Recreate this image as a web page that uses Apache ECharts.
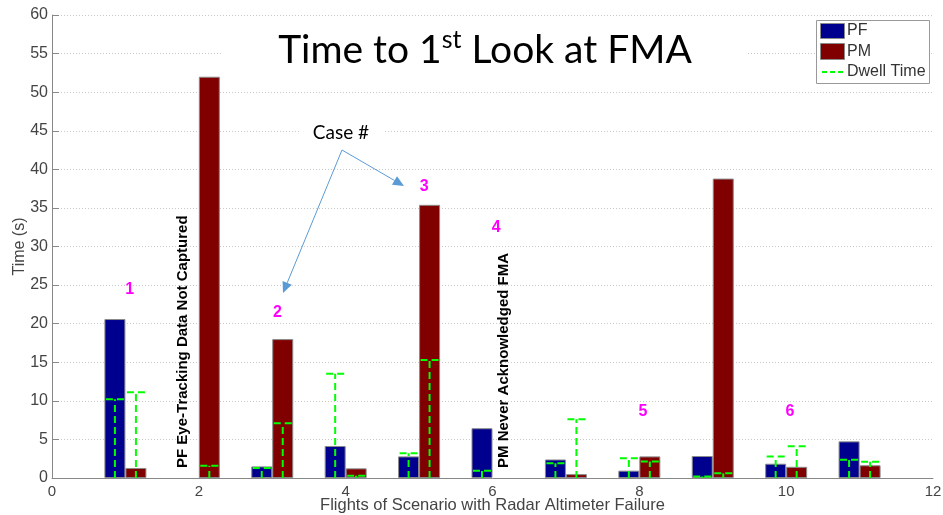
<!DOCTYPE html>
<html>
<head>
<meta charset="utf-8">
<script src="https://cdn.jsdelivr.net/npm/echarts@6/dist/echarts.min.js"></script>
<style>
html,body{margin:0;padding:0;background:#fff;}
#chart{width:943px;height:515px;}
</style>
</head>
<body>
<div id="chart"></div>
<script>
// ---- data ----
const flights = [1, 2, 3, 4, 5, 6, 7, 8, 9, 10, 11];
const pfTime = [20.6, null, 1.5, 4.15, 2.8, 6.45, 2.4, 0.95, 2.85, 1.85, 4.75];
const pmTime = [1.3, 52.0, 18.0, 1.25, 35.4, null, 0.5, 2.8, 38.8, 1.45, 1.65];
const pfDwell = [10.2, null, 1.3, 13.5, 3.2, 0.95, 1.9, 2.55, 0.2, 2.8, 2.35];
const pmDwell = [11.1, 1.6, 7.1, 0.3, 15.3, null, 7.6, 2.15, 0.6, 4.1, 2.1];
const yTicks = [0, 5, 10, 15, 20, 25, 30, 35, 40, 45, 50, 55, 60];
const xTicks = [0, 2, 4, 6, 8, 10, 12];
const caseLabels = ['1', '2', '3', '4', '5', '6'];
const caseX = [1.06, 3.07, 5.07, 6.05, 8.05, 10.05];
const caseY = [24.4, 21.4, 37.7, 32.5, 8.6, 8.6];
const noteTexts = ['PF Eye-Tracking Data Not Captured', 'PM Never Acknowledged FMA'];
const noteX = [1.785, 6.16];
const noteY = [1.3, 1.3];

const PF_COLOR = '#00008F', PM_COLOR = '#800000', DWELL = '#00FF00';
const BAR_W = 21;

const chart = echarts.init(document.getElementById('chart'), null, {renderer: 'canvas'});

function pairs(xs, ys) {
  const out = [];
  xs.forEach((x, i) => { if (ys[i] !== null) out.push([x, ys[i]]); });
  return out;
}
function barData(xs, ys) {
  return xs.map((x, i) => [x, ys[i] === null ? '-' : ys[i]]);
}
function dwellRender(offset) {
  return function (params, api) {
    const x = api.value(0), v = api.value(1);
    const top = api.coord([x, v]);
    const bot = api.coord([x, 0]);
    const cx = top[0] + offset;
    const st = {stroke: DWELL, lineWidth: 2, lineDash: [7, 4]};
    return {
      type: 'group',
      children: [
        {type: 'line', shape: {x1: cx, y1: bot[1], x2: cx, y2: top[1]}, style: st},
        {type: 'line', shape: {x1: cx - 9, y1: top[1], x2: cx + 10, y2: top[1]}, style: st}
      ]
    };
  };
}

const axisFont = 'Liberation Sans, Arial, sans-serif';

chart.setOption({
  animation: false,
  grid: {left: 52, right: 10, top: 15, bottom: 37, containLabel: false, outerBoundsMode: 'none'},
  xAxis: {
    type: 'value', min: 0, max: 12, interval: 2,
    name: 'Flights of Scenario with Radar Altimeter Failure',
    nameLocation: 'middle', nameGap: 19, nameMoveOverlap: false,
    nameTextStyle: {fontFamily: axisFont, fontSize: 16.5, color: '#444'},
    axisLine: {show: true, lineStyle: {color: '#888', width: 1}},
    axisTick: {show: false},
    axisLabel: {fontFamily: axisFont, fontSize: 15, color: '#444', margin: 6,
      formatter: v => xTicks.includes(v) ? String(v) : ''},
    splitLine: {show: false}
  },
  yAxis: {
    type: 'value', min: 0, max: 60, interval: 5,
    name: 'Time (s)', nameLocation: 'middle', nameGap: 24, nameMoveOverlap: false,
    nameTextStyle: {fontFamily: axisFont, fontSize: 16, color: '#444'},
    axisLine: {show: true, lineStyle: {color: '#888', width: 1}},
    axisTick: {show: true, inside: true, length: 7, lineStyle: {color: '#888'}},
    axisLabel: {fontFamily: axisFont, fontSize: 16, color: '#444', margin: 4,
      formatter: v => yTicks.includes(v) ? String(v) : ''},
    splitLine: {show: true, lineStyle: {color: '#c8c8c8', type: [1, 2], width: 1}}
  },
  series: [
    {name: 'PF', type: 'bar', data: barData(flights, pfTime), barWidth: BAR_W, barGap: '0%',
      itemStyle: {color: PF_COLOR, borderColor: '#8a8a8a', borderWidth: 1}},
    {name: 'PM', type: 'bar', data: barData(flights, pmTime), barWidth: BAR_W, barGap: '0%',
      itemStyle: {color: PM_COLOR, borderColor: '#8a8a8a', borderWidth: 1}},
    {name: 'Dwell Time', type: 'custom', data: pairs(flights, pfDwell), renderItem: dwellRender(-BAR_W / 2), z: 5},
    {name: 'Dwell Time', type: 'custom', data: pairs(flights, pmDwell), renderItem: dwellRender(BAR_W / 2), z: 5}
  ]
});

// ---- annotations ----
const g = [];
// title box (white background hides gridlines)
g.push({type: 'rect', shape: {x: 223, y: 28, width: 523, height: 50}, style: {fill: '#fff'}, z: 50});
g.push({type: 'text', x: 485, y: 73, z: 51, style: {
  rich: {n: {fontFamily: 'Lato, sans-serif', fontSize: 39, fill: '#000'},
         s: {fontFamily: 'Lato, sans-serif', fontSize: 25, fill: '#000', verticalAlign: 'top', padding: [0, 0, 21, 0]}},
  text: '{n|Time to 1}{s|st}{n| Look at FMA}', textAlign: 'center', textVerticalAlign: 'bottom', fill: '#000'
}});
// Case # box
g.push({type: 'rect', shape: {x: 300, y: 117, width: 84, height: 30}, style: {fill: '#fff'}, z: 50});
g.push({type: 'text', x: 341, y: 133, z: 51, style: {text: 'Case #', fontFamily: 'Lato, sans-serif', fontSize: 19, fill: '#000', textAlign: 'center', textVerticalAlign: 'middle'}});
// arrows
const arrowColor = '#5B9BD5';
function arrow(x1, y1, x2, y2) {
  const ang = Math.atan2(y2 - y1, x2 - x1);
  const L = 11, W = 5;
  const bx = x2 - L * Math.cos(ang), by = y2 - L * Math.sin(ang);
  g.push({type: 'line', z: 52, shape: {x1: x1, y1: y1, x2: bx, y2: by}, style: {stroke: arrowColor, lineWidth: 1}});
  g.push({type: 'polygon', z: 52, shape: {points: [[x2, y2],
    [bx + W * Math.sin(ang), by - W * Math.cos(ang)], [bx - W * Math.sin(ang), by + W * Math.cos(ang)]]},
    style: {fill: arrowColor}});
}
arrow(342, 150, 283, 293);
arrow(342, 150, 404, 186);
// case numbers
caseLabels.forEach((t, i) => {
  const p = chart.convertToPixel({gridIndex: 0}, [caseX[i], caseY[i]]);
  g.push({type: 'text', x: p[0], y: p[1], z: 40, style: {text: t, fontFamily: axisFont, fontWeight: 'bold', fontSize: 16, fill: '#FF00FF', textAlign: 'center', textVerticalAlign: 'middle'}});
});
// vertical notes
noteTexts.forEach((t, i) => {
  const p = chart.convertToPixel({gridIndex: 0}, [noteX[i], noteY[i]]);
  g.push({type: 'text', x: p[0], y: p[1], rotation: Math.PI / 2, z: 40, style: {text: t, fontFamily: axisFont, fontWeight: 'bold', fontSize: 15, fill: '#000', textAlign: 'left', textVerticalAlign: 'middle'}});
});
// legend
g.push({type: 'rect', z: 60, shape: {x: 816.5, y: 20.5, width: 113, height: 63}, style: {fill: '#fff', stroke: '#999', lineWidth: 1}});
g.push({type: 'rect', z: 61, shape: {x: 820.5, y: 23.5, width: 24, height: 15}, style: {fill: PF_COLOR, stroke: '#8a8a8a', lineWidth: 1}});
g.push({type: 'rect', z: 61, shape: {x: 820.5, y: 43.5, width: 24, height: 16}, style: {fill: PM_COLOR, stroke: '#8a8a8a', lineWidth: 1}});
g.push({type: 'line', z: 61, shape: {x1: 822, y1: 72, x2: 845, y2: 72}, style: {stroke: DWELL, lineWidth: 2, lineDash: [5, 3]}});
[['PF', 31], ['PM', 52], ['Dwell Time', 72]].forEach(([t, y]) => {
  g.push({type: 'text', z: 61, x: 847, y: y, style: {text: t, fontFamily: axisFont, fontSize: 16, fill: '#333', textAlign: 'left', textVerticalAlign: 'middle'}});
});
chart.setOption({graphic: {elements: g}});
</script>
</body>
</html>
